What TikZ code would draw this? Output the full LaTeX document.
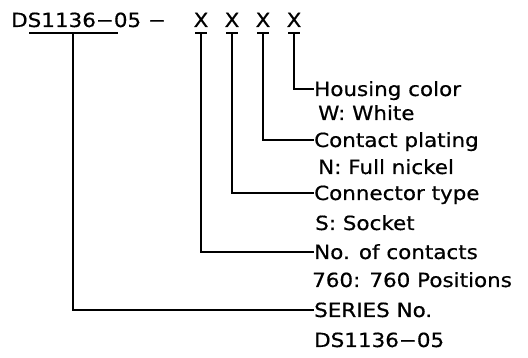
\documentclass[tikz,border=0pt]{standalone}
\usepackage{fontspec}
\setmainfont{DejaVu Sans}[FakeStretch=1.1,FakeBold=0.6]
\begin{document}
\begin{tikzpicture}[x=1pt,y=-1pt,
  txt/.style={inner sep=0pt,text height=14pt,text depth=0pt,font=\fontsize{19.5}{23}\selectfont},
  lbl/.style={txt,anchor=west},
  wire/.style={line width=1.7pt}]
\useasboundingbox (0,0) rectangle (528,358);
% title
\node[lbl] (series) at (11,20) {DS1136−05};
\node[txt] (dash) at (157,20) {−};
\node[txt] (x1) at (201,20) {X};
\node[txt] (x2) at (232,20) {X};
\node[txt] (x3) at (263,20) {X};
\node[txt] (x4) at (294,20) {X};
% labels
\node[lbl] (lhc) at (314,89) {Housing color};
\node[lbl] (lw) at (318,113) {W: White};
\node[lbl] (lcp) at (314,140) {Contact plating};
\node[lbl] (lnick) at (318,167) {N: Full nickel};
\node[lbl] (lct) at (314,193) {Connector type};
\node[lbl] (lsock) at (315,223) {S: Socket};
\node[lbl] (lnc) at (314,252) {No. of contacts};
\node[lbl] (lpos) at (312,280) {760: 760 Positions};
\node[lbl] (lsn) at (314,310) {SERIES No.};
\node[lbl] (lds) at (314,340) {DS1136−05};
% anchor points
\coordinate (u1) at (29,33);
\coordinate (u2) at (118,33);
\coordinate (s0) at (73,33);
\coordinate (t1) at (201,33);
\coordinate (t2) at (232,33);
\coordinate (t3) at (263,33);
\coordinate (t4) at (294,33);
% connectors
\draw[wire] (u1) -- (u2);
\draw[wire] (s0) |- (lsn.west);
\foreach \t in {t1,t2,t3,t4}{
  \draw[wire] ([xshift=-6pt]\t) -- ([xshift=6pt]\t);
}
\draw[wire] (t1) |- (lnc.west);
\draw[wire] (t2) |- (lct.west);
\draw[wire] (t3) |- (lcp.west);
\draw[wire] (t4) |- (lhc.west);
\end{tikzpicture}
\end{document}
